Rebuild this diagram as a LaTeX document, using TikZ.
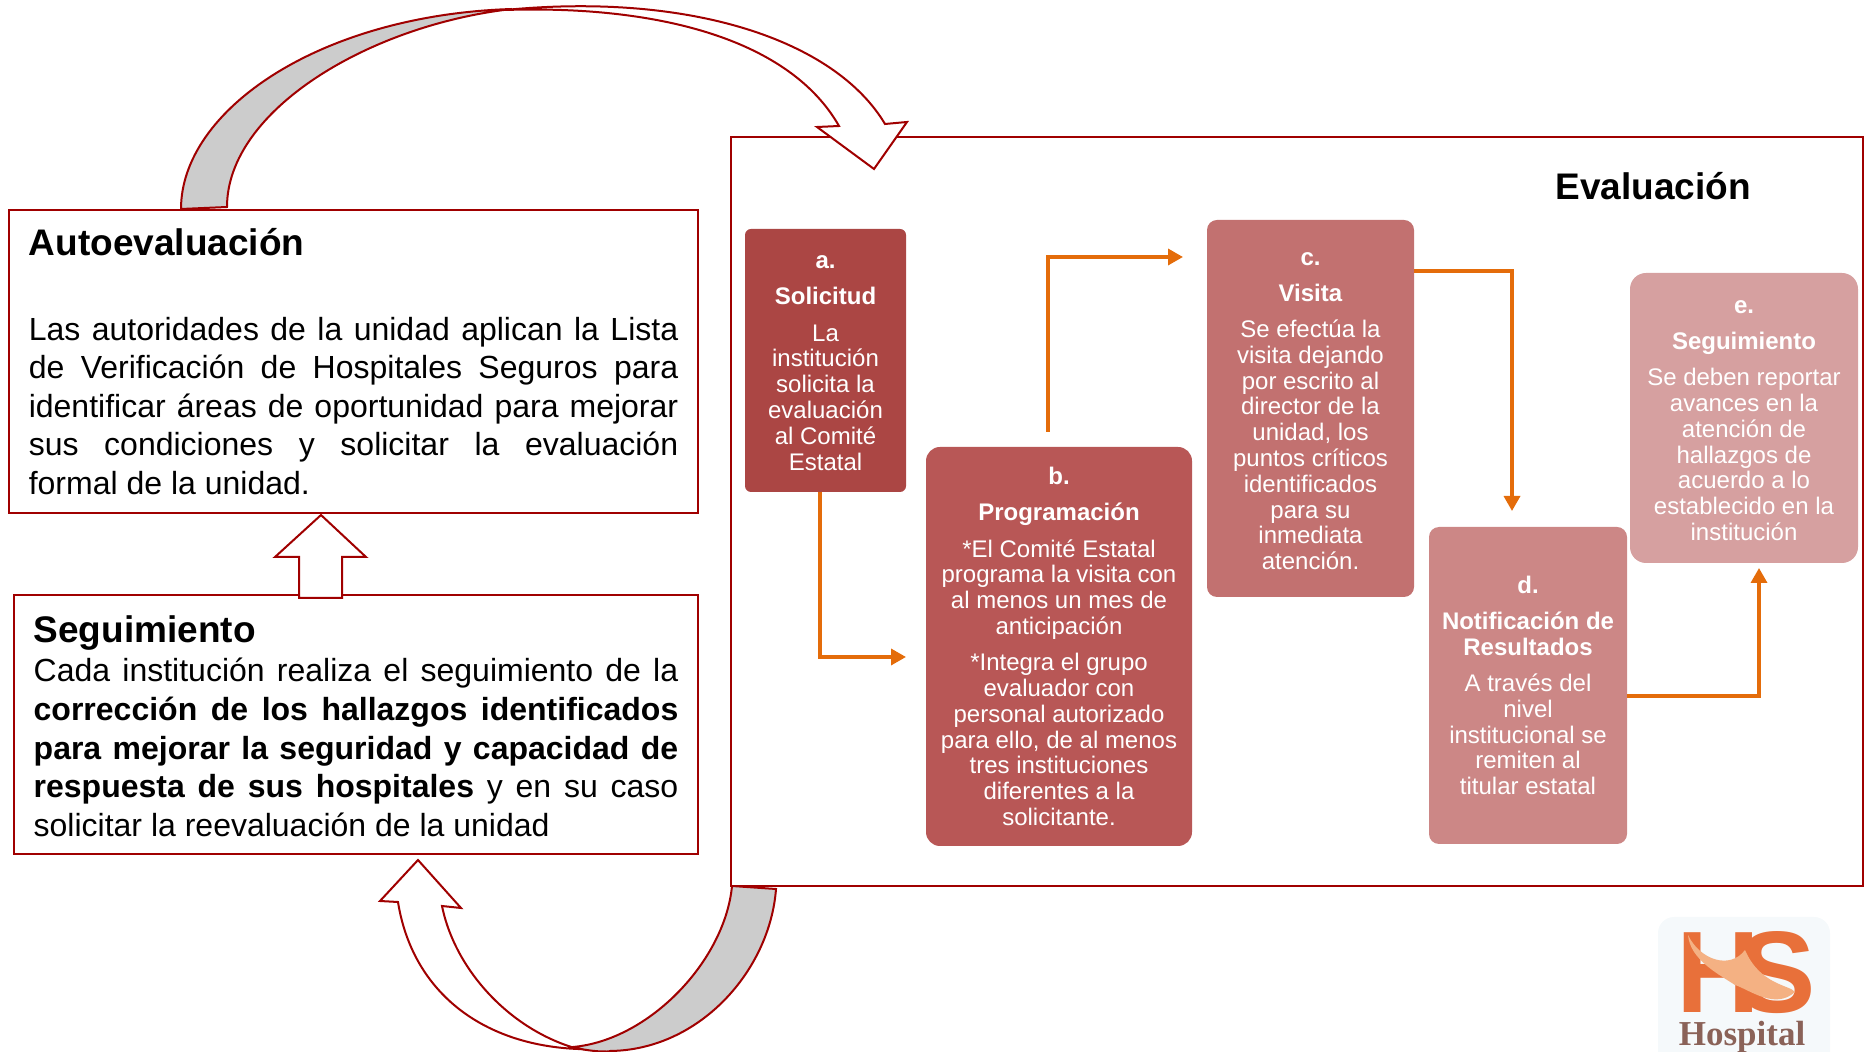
\documentclass[tikz,border=0pt]{standalone}
\usepackage{fontspec}
\setmainfont{Liberation Sans}
\newfontfamily\logofont{Liberation Serif}
\usetikzlibrary{positioning, arrows.meta}
\definecolor{rojo}{HTML}{A00000}
\definecolor{naranja}{HTML}{E46C0A}
\definecolor{gris}{HTML}{CCCCCC}
\definecolor{faseA}{HTML}{AB4644}
\definecolor{faseB}{HTML}{B85756}
\definecolor{faseC}{HTML}{C27170}
\definecolor{faseD}{HTML}{CC8786}
\definecolor{faseE}{HTML}{D6A0A0}
\definecolor{logoNaranja}{HTML}{E8703A}
\definecolor{logoClaro}{HTML}{F4B183}
\definecolor{logoCafe}{HTML}{8A6258}
\definecolor{logoFondo}{HTML}{F5F9FB}
\newcommand{\titulofont}{\fontsize{18.5}{22}\selectfont\bfseries}
\newcommand{\bajar}{\rule{0pt}{9pt}}
\tikzset{
    caja/.style={
        draw = rojo, line width = 1pt,
        align = justify, inner ysep = 0pt,
        font = \fontsize{16}{19.3}\selectfont
    },
    fase/.style={
        text = white, outer sep = 0pt,
        align = center, inner sep = 0pt,
        font = \fontsize{12}{12.9}\selectfont
    },
    flecha/.style = {draw = rojo, line width = 1pt, fill = white},
    linea/.style = {-{Triangle[length=7.5pt,width=8pt]}, draw = naranja, line width = 1.7pt}
}
\begin{document}
\begin{tikzpicture}[x=0.5pt, y=-0.5pt]
    \useasboundingbox (0,0) rectangle (1864,1052);

    % Marco de la evaluacion
    \node[draw = rojo, line width = 1.4pt, minimum width = 566pt, minimum height = 374.5pt] (marco) at (1297,511.5) {};
    \node[font = \titulofont] (evaluacion) at (1653,186) {Evaluación};

    % Autoevaluacion
    \node[caja, text width = 324.7pt, inner xsep = 9.75pt, minimum height = 151.5pt] (auto) at (353.5,361.5) {%
        {\titulofont Autoevaluación}\\[23pt]
        Las autoridades de la unidad aplican la Lista\linebreak
        de Verificación de Hospitales Seguros para\linebreak
        identificar áreas de oportunidad para mejorar\linebreak
        sus condiciones y solicitar la evaluación\linebreak
        formal de la unidad.};

    % Seguimiento
    \node[caja, text width = 322.3pt, inner xsep = 9.75pt, minimum height = 129.5pt] (seguimiento) at (356,724.5) {%
        {\titulofont\rule{0pt}{15pt}Seguimiento}\\[0.5pt]
        Cada institución realiza el seguimiento de la\linebreak
        \textbf{corrección de los hallazgos identificados}\linebreak
        \textbf{para mejorar la seguridad y capacidad de}\linebreak
        \textbf{respuesta de sus hospitales} y en su caso\linebreak
        solicitar la reevaluación de la unidad};

    % Fases
    \node[fase, fill = faseA, rounded corners = 3pt, minimum width = 80.5pt, minimum height = 131.5pt] (solicitud) at (825.5,360.5) {%
        \bajar\textbf{a.}\\[5.2pt]
        \textbf{Solicitud}\\[5.2pt]
        La\\institución\\solicita la\\evaluación\\al Comité\\Estatal};
    \node[fase, fill = faseB, rounded corners = 7pt, minimum width = 133pt, minimum height = 199.5pt,
        below right = -22.5pt and 10pt of solicitud] (programacion) {%
        \textbf{b.}\\[5.2pt]
        \textbf{Programación}\\[5.2pt]
        *El Comité Estatal\\programa la visita con\\al menos un mes de\\anticipación\\[5.2pt]
        *Integra el grupo\\evaluador con\\personal autorizado\\para ello, de al menos\\tres instituciones\\diferentes a la\\solicitante.};
    \node[fase, fill = faseC, rounded corners = 5pt, minimum width = 103.5pt, minimum height = 188.5pt,
        above right = -75pt and 7.5pt of programacion] (visita) {%
        \bajar\textbf{c.}\\[5.2pt]
        \textbf{Visita}\\[5.2pt]
        Se efectúa la\\visita dejando\\por escrito al\\director de la\\unidad, los\\puntos críticos\\identificados\\para su\\inmediata\\atención.};
    \node[fase, fill = faseD, rounded corners = 5pt, minimum width = 99pt, minimum height = 158.5pt,
        below right = -35pt and 7.5pt of visita] (notificacion) {%
        \textbf{d.}\\[5.2pt]
        \textbf{Notificación de}\\\textbf{Resultados}\\[5.2pt]
        A través del\\nivel\\institucional se\\remiten al\\titular estatal};
    \node[fase, fill = faseE, rounded corners = 8pt, minimum width = 114pt, minimum height = 145pt,
        above right = -18pt and 1.5pt of notificacion] (reporte) {%
        \bajar\textbf{e.}\\[5.2pt]
        \textbf{Seguimiento}\\[5.2pt]
        Se deben reportar\\avances en la\\atención de\\hallazgos de\\acuerdo a lo\\establecido en la\\institución};

    % Lineas
    \draw[linea] ([shift={(-5.5,0)}]solicitud.south) |- ([shift={(-20,10.5)}]programacion.west);
    \draw[linea] ([shift={(-11,-15)}]programacion.north) |- ([shift={(-24,-151.5)}]visita.west);
    \draw[linea] ([shift={(0,-137.5)}]visita.east) -| ([shift={(-16,-16)}]notificacion.north);
    \draw[linea] ([shift={(0,10.5)}]notificacion.east) -| ([shift={(15,5)}]reporte.south);

    % Flecha superior
    \draw[flecha, fill = gris] (181,209) .. controls (181,110) and (320,15) .. (512,9)
        .. controls (370,25) and (227,110) .. (227,207) -- cycle;
    \draw[flecha] (505,10) .. controls (690,-8) and (835,40) .. (885,124) -- (907,122) -- (874,169)
        -- (817,127) -- (839,126) .. controls (790,40) and (660,5) .. (505,10) -- cycle;

    % Flecha entre cajas
    \draw[flecha] (321,515) -- (275,557) -- (299,557) -- (299,598) -- (342,598) -- (342,557) -- (366,557) -- cycle;

    % Flecha inferior
    \draw[flecha, fill = gris] (732,886) .. controls (725,960) and (650,1040) .. (573,1047)
        .. controls (590,1052) and (610,1052) .. (610,1051)
        .. controls (700,1050) and (770,970) .. (776,889) -- cycle;
    \draw[flecha] (578,1049) .. controls (480,1045) and (412,990) .. (398,902) -- (380,901) -- (418,860)
        -- (461,908) -- (442,906) .. controls (455,970) and (510,1030) .. (578,1049) -- cycle;

    % Logo
    \fill[rounded corners = 8pt, fill = logoFondo] (1658,917) rectangle (1830,1070);
    \node[text = logoNaranja, font = \fontsize{58}{58}\selectfont\bfseries, inner sep = 0pt] (logoHS) at (1746,973) {H\kern-11pt S};
    \fill[logoClaro] (1688,935) .. controls (1700,960) and (1730,970) .. (1745,950)
        .. controls (1760,985) and (1790,985) .. (1795,992) .. controls (1775,1010) and (1750,990) .. (1735,985)
        .. controls (1720,975) and (1690,960) .. cycle;
    \node[text = logoCafe, font = \logofont\fontsize{17.5}{18}\selectfont\bfseries, inner sep = 0pt] (logoNombre) at (1742,1037) {Hospital};
\end{tikzpicture}
\end{document}
